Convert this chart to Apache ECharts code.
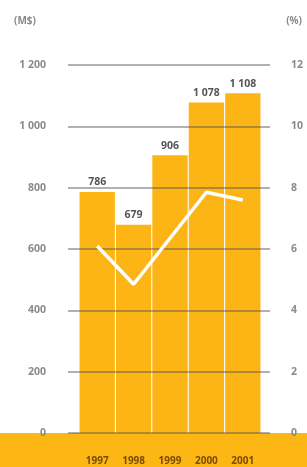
<!DOCTYPE html>
<html>
<head>
<meta charset="utf-8">
<script src="https://cdn.jsdelivr.net/npm/echarts@6/dist/echarts.min.js"></script>
<style>
html,body{margin:0;padding:0;background:#fff;}
#main{width:307px;height:467px;}
</style>
</head>
<body>
<div id="main"></div>
<script>
// données
var years = ['1997', '1998', '1999', '2000', '2001'];
var sales = [786, 679, 906, 1078, 1108];      // M$
var margin = [6.1, 4.85, 6.35, 7.85, 7.6];     // %

var grey = '#8a8a8a';
var font = 'Open Sans';

// 1 200 style
function fmt(v) {
	return String(v).replace(/\B(?=(\d{3})+(?!\d))/g, ' ');
}

var myChart = echarts.init(document.getElementById('main'));
var option = {
	animation: false,
	title: [
		{ text: '(M$)', left: 9, top: 11, textStyle: { color: grey, fontSize: 10, fontWeight: 'bold', fontFamily: font } },
		{ text: '(%)', right: 0, top: 11, textStyle: { color: grey, fontSize: 10, fontWeight: 'bold', fontFamily: font } }
	],
	graphic: [
		{ type: 'rect', z: 1, shape: { x: 0, y: 433, width: 307, height: 34 }, style: { fill: '#FDB714' } }
	],
	grid: [
		{ left: 68, right: 37, top: 65, bottom: 34 },   // lignes de fond
		{ left: 79, right: 46, top: 65, bottom: 34 }    // barres
	],
	xAxis: [
		{ gridIndex: 0, type: 'category', data: years, show: false },
		{
			gridIndex: 1, type: 'category', data: years, z: 10,
			axisLine: { show: false }, axisTick: { show: false },
			axisLabel: { margin: 23, color: '#7a4c00', fontSize: 10, fontWeight: 'bold', fontFamily: font }
		}
	],
	yAxis: [
		{
			gridIndex: 0, type: 'value', min: 0, max: 1200, interval: 200, z: 5,
			axisLine: { show: false }, axisTick: { show: false },
			axisLabel: { margin: 22, color: grey, fontSize: 10.5, fontWeight: 'bold', fontFamily: font, formatter: fmt },
			splitLine: { lineStyle: { color: 'rgba(80,80,80,0.6)', width: 1.5 } }
		},
		{
			gridIndex: 0, type: 'value', position: 'right', min: 0, max: 12, interval: 2, z: 5,
			axisLine: { show: false }, axisTick: { show: false },
			axisLabel: { margin: 21, color: grey, fontSize: 10.5, fontWeight: 'bold', fontFamily: font },
			splitLine: { show: false }
		},
		{ gridIndex: 1, type: 'value', min: 0, max: 1200, show: false },
		{ gridIndex: 1, type: 'value', min: 0, max: 12, show: false }
	],
	series: [
		{
			type: 'bar', xAxisIndex: 1, yAxisIndex: 2, z: 2,
			barCategoryGap: '3%',
			itemStyle: { color: '#FDB515' },
			label: {
				show: true, position: 'top', distance: 4,
				color: '#555', fontSize: 10.5, fontWeight: 'bold', fontFamily: font,
				formatter: function (p) { return fmt(p.value); }
			},
			data: sales
		},
		{
			type: 'line', xAxisIndex: 1, yAxisIndex: 3, z: 6,
			symbol: 'none',
			lineStyle: { color: '#fff', width: 3.5 },
			data: margin
		}
	]
};
myChart.setOption(option);
</script>
</body>
</html>
